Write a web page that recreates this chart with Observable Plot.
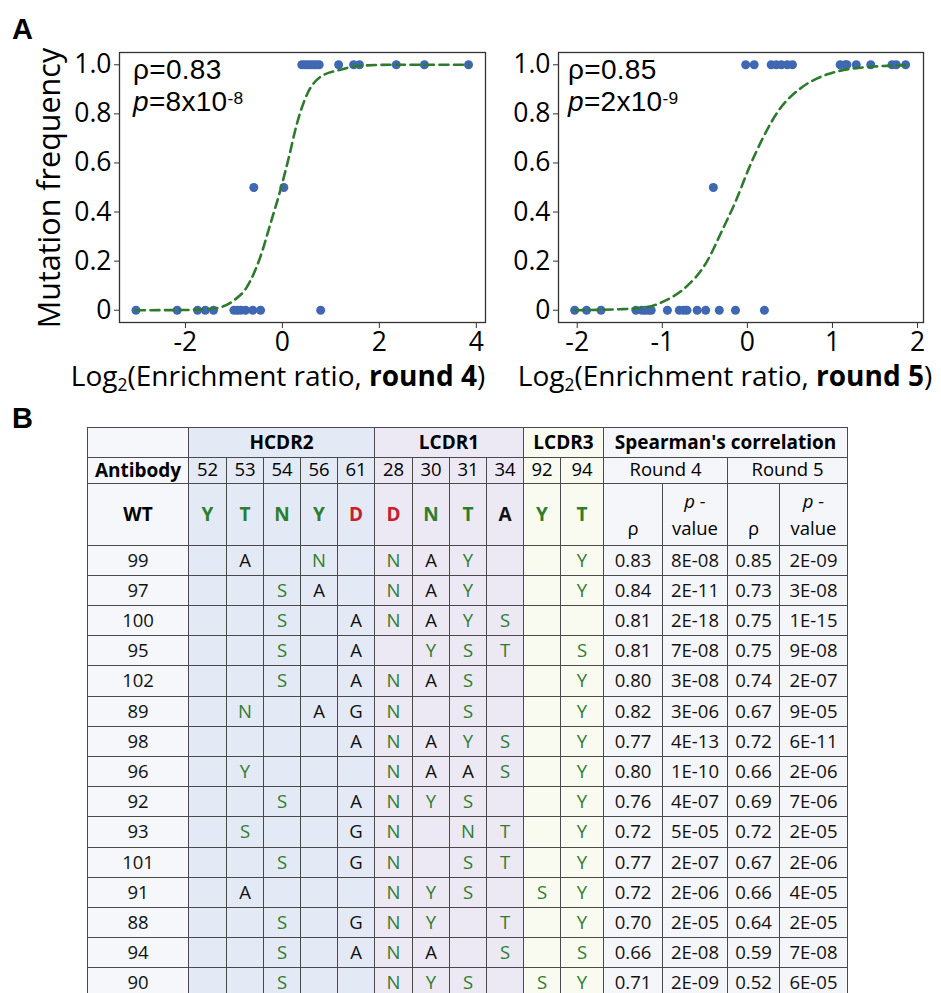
<!DOCTYPE html>
<html>
<head>
<meta charset="utf-8">
<script src="https://cdn.jsdelivr.net/npm/d3@7"></script>
<script src="https://cdn.jsdelivr.net/npm/@observablehq/plot@0.6"></script>
<style>
  html, body { margin: 0; padding: 0; background: #fff; }
  body { width: 941px; height: 993px; overflow: hidden; position: relative; font-family: "Open Sans", sans-serif; color: #000; }
  .abs { position: absolute; white-space: nowrap; }
  .panel { font-family: "Liberation Sans", Arial, sans-serif; font-weight: bold; font-size: 29px; line-height: 29px; }
  .xlab { font-size: 28px; line-height: 28px; transform: translateX(-50%); }
  .ylab { font-size: 30.5px; line-height: 30px; transform: translate(-50%, -50%) rotate(-90deg); }
  .ann { font-family: "Liberation Sans", Arial, sans-serif; font-size: 28px; line-height: 32px; letter-spacing: 0.3px; }
  .sub { font-size: 0.62em; position: relative; top: 0.3em; }
  .sup { font-size: 0.62em; position: relative; top: -7px; }
  svg { position: absolute; }
</style>
</head>
<body>
<div id="root"></div>
<script>
// ---------------- Panel A data ----------------
const round4Ratio = [-3.02, -2.17, -1.75, -1.59, -1.42, -1.0, -0.93, -0.86, -0.76, -0.61, -0.45, 0.79,
                     -0.59, 0.03,
                     0.40, 0.46, 0.52, 0.58, 0.64, 0.70, 0.76, 1.16, 1.47, 1.59, 2.35, 2.93, 3.84];
const round4Freq  = [0, 0, 0, 0, 0, 0, 0, 0, 0, 0, 0, 0,
                     0.5, 0.5,
                     1, 1, 1, 1, 1, 1, 1, 1, 1, 1, 1, 1, 1];
const round5Ratio = [-2.03, -1.89, -1.72, -1.31, -1.24, -1.20, -1.16, -1.13, -0.94, -0.80, -0.75, -0.71, -0.59, -0.49, -0.33, -0.14, 0.20,
                     -0.40,
                     -0.02, 0.08, 0.28, 0.34, 0.40, 0.47, 0.53, 1.09, 1.15, 1.17, 1.28, 1.45, 1.70, 1.75, 1.86];
const round5Freq  = [0, 0, 0, 0, 0, 0, 0, 0, 0, 0, 0, 0, 0, 0, 0, 0, 0,
                     0.5,
                     1, 1, 1, 1, 1, 1, 1, 1, 1, 1, 1, 1, 1, 1, 1];
// fitted curves
const fit4X = [-3.02, -2.0, -1.42, -1.0, -0.73, -0.45, -0.25, -0.04, 0.13, 0.30, 0.51, 0.78, 1.20, 1.61, 2.3, 3.84];
const fit4Y = [0.0, 0.001, 0.007, 0.04, 0.095, 0.22, 0.35, 0.49, 0.62, 0.76, 0.88, 0.95, 0.98, 0.996, 1.0, 1.0];
const fit5X = [-2.03, -1.5, -1.19, -0.96, -0.72, -0.49, -0.29, -0.13, 0.02, 0.18, 0.38, 0.61, 0.93, 1.08, 1.5, 1.86];
const fit5Y = [0.0, 0.004, 0.012, 0.04, 0.095, 0.19, 0.33, 0.45, 0.58, 0.70, 0.82, 0.90, 0.96, 0.975, 0.993, 0.998];
const yTicks = [0, 0.2, 0.4, 0.6, 0.8, 1.0];
const x4Ticks = [-2, 0, 2, 4];
const x5Ticks = [-2, -1, 0, 1, 2];

// ---------------- Panel B data ----------------
const regionNames = ["HCDR2", "LCDR1", "LCDR3"];
const regionSizes = [5, 4, 2];
const positions = ["52", "53", "54", "56", "61", "28", "30", "31", "34", "92", "94"];
const wildType = ["Y", "T", "N", "Y", "D", "D", "N", "T", "A", "Y", "T"];
const antibodies = ["99", "97", "100", "95", "102", "89", "98", "96", "92", "93", "101", "91", "88", "94", "90"];
const mutations = [
  ["", "A", "", "N", "", "N", "A", "Y", "", "", "Y"],
  ["", "", "S", "A", "", "N", "A", "Y", "", "", "Y"],
  ["", "", "S", "", "A", "N", "A", "Y", "S", "", ""],
  ["", "", "S", "", "A", "", "Y", "S", "T", "", "S"],
  ["", "", "S", "", "A", "N", "A", "S", "", "", "Y"],
  ["", "N", "", "A", "G", "N", "", "S", "", "", "Y"],
  ["", "", "", "", "A", "N", "A", "Y", "S", "", "Y"],
  ["", "Y", "", "", "", "N", "A", "A", "S", "", "Y"],
  ["", "", "S", "", "A", "N", "Y", "S", "", "", "Y"],
  ["", "S", "", "", "G", "N", "", "N", "T", "", "Y"],
  ["", "", "S", "", "G", "N", "", "S", "T", "", "Y"],
  ["", "A", "", "", "", "N", "Y", "S", "", "S", "Y"],
  ["", "", "S", "", "G", "N", "Y", "", "T", "", "Y"],
  ["", "", "S", "", "A", "N", "A", "", "S", "", "S"],
  ["", "", "S", "", "", "N", "Y", "S", "", "S", "Y"]
];
const rho4 = ["0.83", "0.84", "0.81", "0.81", "0.80", "0.82", "0.77", "0.80", "0.76", "0.72", "0.77", "0.72", "0.70", "0.66", "0.71"];
const pval4 = ["8E-08", "2E-11", "2E-18", "7E-08", "3E-08", "3E-06", "4E-13", "1E-10", "4E-07", "5E-05", "2E-07", "2E-06", "2E-05", "2E-08", "2E-09"];
const rho5 = ["0.85", "0.73", "0.75", "0.75", "0.74", "0.67", "0.72", "0.66", "0.69", "0.72", "0.67", "0.66", "0.64", "0.59", "0.52"];
const pval5 = ["2E-09", "3E-08", "1E-15", "9E-08", "2E-07", "9E-05", "6E-11", "2E-06", "7E-06", "2E-05", "2E-06", "4E-05", "2E-05", "7E-08", "6E-05"];

// ---------------- styles ----------------
const FONT = "Open Sans";
const DOT = "#4067b2";
const GREEN = "#2f7a2f";
const residueColor = { Y: "#2e7d2e", T: "#2e7d2e", N: "#2e7d2e", S: "#2e7d2e", D: "#c8202a", A: "#111", G: "#111" };
const root = document.getElementById("root");

function scatter(xs, ys, fx, fy, xDomain, xTicks, width, marginLeft, marginRight) {
  const pts = xs.map((x, i) => ({ x, y: ys[i] }));
  const fit = fx.map((x, i) => ({ x, y: fy[i] }));
  return Plot.plot({
    width, height: 400,
    marginLeft, marginRight, marginTop: 52, marginBottom: 78,
    style: { fontFamily: FONT, fontSize: "26.5px", color: "#000", background: "transparent" },
    x: { domain: xDomain },
    y: { domain: [-0.05, 1.05] },
    marks: [
      Plot.frame({ stroke: "#333", strokeWidth: 1.3 }),
      Plot.axisX({ ticks: xTicks, tickFormat: d => String(d), tickSize: 6, tickPadding: 4, label: null, stroke: "#333" }),
      Plot.axisY({ ticks: yTicks, tickFormat: d => d === 0 ? "0" : d.toFixed(1), tickSize: 5, tickPadding: 3, label: null, stroke: "#333" }),
      Plot.dot(pts, { x: "x", y: "y", r: 4.5, fill: DOT, stroke: "none" }),
      Plot.line(fit, { x: "x", y: "y", stroke: GREEN, strokeWidth: 2.6, strokeDasharray: "9,5.5", curve: "monotone-x" })
    ]
  });
}

const s1 = scatter(round4Ratio, round4Freq, fit4X, fit4Y, [-3.36, 4.19], x4Ticks, 490, 119, 5);
s1.style.left = "0px"; s1.style.top = "0px";
root.appendChild(s1);
const s2 = scatter(round5Ratio, round5Freq, fit5X, fit5Y, [-2.22, 2.07], x5Ticks, 461, 78, 18);
s2.style.left = "480px"; s2.style.top = "0px";
root.appendChild(s2);

// ---------------- table ----------------
const colWidths = [101, 38, 37, 37, 37, 37, 38, 37, 37, 37, 37, 43, 59, 65, 52, 68];
const rowHeights = [30, 26, 62].concat(antibodies.map(() => 30.2));
const xe = [0]; colWidths.forEach(w => xe.push(xe[xe.length - 1] + w));
const ye = [0]; rowHeights.forEach(h => ye.push(ye[ye.length - 1] + h));
const fillAb = "#f5f7fa", fillH = "#e3e9f5", fillL1 = "#ece9f4", fillL3 = "#f9faf0", fillS = "#f5f6f9";
const regionFills = [fillH, fillL1, fillL3];
const colFill = c => c === 0 ? fillAb : c <= 5 ? fillH : c <= 9 ? fillL1 : c <= 11 ? fillL3 : fillS;

const cells = [], texts = [];
// header row 0
cells.push({ r: 0, c0: 0, c1: 1, fill: fillAb });
let c = 1;
regionNames.forEach((name, i) => {
  cells.push({ r: 0, c0: c, c1: c + regionSizes[i], fill: regionFills[i] });
  texts.push({ t: name, x: (xe[c] + xe[c + regionSizes[i]]) / 2, y: (ye[0] + ye[1]) / 2, w: "bold", color: "#000" });
  c += regionSizes[i];
});
cells.push({ r: 0, c0: 12, c1: 16, fill: fillS });
texts.push({ t: "Spearman's correlation", x: (xe[12] + xe[16]) / 2, y: (ye[0] + ye[1]) / 2, w: "bold", color: "#000" });
// header row 1
cells.push({ r: 1, c0: 0, c1: 1, fill: fillAb });
texts.push({ t: "Antibody", x: (xe[0] + xe[1]) / 2, y: (ye[1] + ye[2]) / 2, w: "bold", color: "#000" });
positions.forEach((p, i) => {
  cells.push({ r: 1, c0: i + 1, c1: i + 2, fill: colFill(i + 1) });
  texts.push({ t: p, x: (xe[i + 1] + xe[i + 2]) / 2, y: (ye[1] + ye[2]) / 2, w: "normal", color: "#000" });
});
cells.push({ r: 1, c0: 12, c1: 14, fill: fillS });
cells.push({ r: 1, c0: 14, c1: 16, fill: fillS });
texts.push({ t: "Round 4", x: (xe[12] + xe[14]) / 2, y: (ye[1] + ye[2]) / 2, w: "normal", color: "#000" });
texts.push({ t: "Round 5", x: (xe[14] + xe[16]) / 2, y: (ye[1] + ye[2]) / 2, w: "normal", color: "#000" });
// WT row
cells.push({ r: 2, c0: 0, c1: 1, fill: fillAb });
texts.push({ t: "WT", x: (xe[0] + xe[1]) / 2, y: (ye[2] + ye[3]) / 2, w: "bold", color: "#000" });
wildType.forEach((a, i) => {
  cells.push({ r: 2, c0: i + 1, c1: i + 2, fill: colFill(i + 1) });
  texts.push({ t: a, x: (xe[i + 1] + xe[i + 2]) / 2, y: (ye[2] + ye[3]) / 2, w: "bold", color: residueColor[a] });
});
for (let k = 12; k < 16; k++) {
  cells.push({ r: 2, c0: k, c1: k + 1, fill: fillS });
  const cx = (xe[k] + xe[k + 1]) / 2;
  if (k % 2 === 0) {
    texts.push({ t: "ρ", x: cx, y: ye[2] + 46, w: "normal", color: "#000" });
  } else {
    texts.push({ t: "p -", x: cx, y: ye[2] + 19, w: "italic", color: "#000" });
    texts.push({ t: "value", x: cx, y: ye[2] + 46, w: "normal", color: "#000" });
  }
}
// data rows
antibodies.forEach((ab, j) => {
  const r = j + 3, yc = (ye[r] + ye[r + 1]) / 2;
  const vals = [ab].concat(mutations[j], [rho4[j], pval4[j], rho5[j], pval5[j]]);
  vals.forEach((v, k) => {
    cells.push({ r, c0: k, c1: k + 1, fill: colFill(k) });
    if (v) texts.push({ t: v, x: (xe[k] + xe[k + 1]) / 2, y: yc, w: "normal", color: (k >= 1 && k <= 11) ? residueColor[v] : "#111" });
  });
});

const tableTop = 400;
const tbl = Plot.plot({
  width: 941, height: 598,
  marginLeft: 87, marginRight: 941 - 87 - xe[xe.length - 1], marginTop: 27, marginBottom: 598 - 27 - ye[ye.length - 1],
  style: { fontFamily: FONT, background: "transparent" },
  x: { domain: [0, xe[xe.length - 1]], axis: null },
  y: { domain: [0, ye[ye.length - 1]], reverse: true, axis: null },
  marks: [
    Plot.rect(cells, { x1: d => xe[d.c0], x2: d => xe[d.c1], y1: d => ye[d.r], y2: d => ye[d.r + 1], fill: d => d.fill, stroke: "#4a4a4a", strokeWidth: 1, shapeRendering: "crispEdges" }),
    Plot.text(texts.filter(d => d.w === "normal"), { x: "x", y: "y", text: "t", fill: d => d.color, fontSize: 18.5 }),
    Plot.text(texts.filter(d => d.w === "bold"), { x: "x", y: "y", text: "t", fill: d => d.color, fontSize: 19, fontWeight: "bold" }),
    Plot.text(texts.filter(d => d.w === "italic"), { x: "x", y: "y", text: "t", fill: d => d.color, fontSize: 18.5, fontStyle: "italic" })
  ]
});
tbl.style.left = "0px"; tbl.style.top = tableTop + "px";
root.appendChild(tbl);

// ---------------- HTML labels ----------------
function addDiv(cls, html, left, top) {
  const d = document.createElement("div");
  d.className = "abs " + cls;
  d.innerHTML = html;
  d.style.left = left + "px"; d.style.top = top + "px";
  root.appendChild(d);
  return d;
}
addDiv("panel", "A", 12, 15);
addDiv("panel", "B", 12, 404);
addDiv("ylab", "Mutation frequency", 48, 188);
addDiv("xlab", 'Log<span class="sub">2</span>(Enrichment ratio, <b>round 4</b>)', 278, 361);
addDiv("xlab", 'Log<span class="sub">2</span>(Enrichment ratio, <b>round 5</b>)', 725, 361);
addDiv("ann", 'ρ=0.83', 133, 54);
addDiv("ann", '<i>p</i>=8x10<span class="sup">-8</span>', 133, 86);
addDiv("ann", 'ρ=0.85', 568, 54);
addDiv("ann", '<i>p</i>=2x10<span class="sup">-9</span>', 568, 86);
</script>
</body>
</html>
